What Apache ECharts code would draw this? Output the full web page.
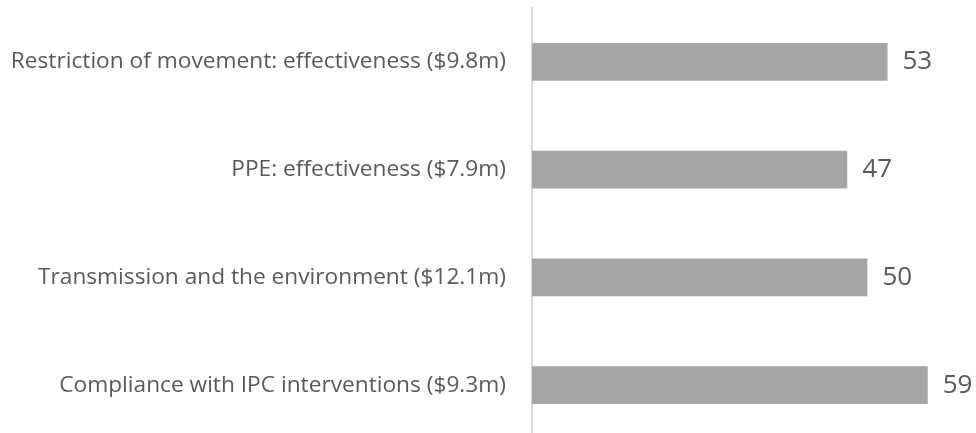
<!DOCTYPE html>
<html>
<head>
<meta charset="utf-8">
<script src="https://cdn.jsdelivr.net/npm/echarts@6/dist/echarts.min.js"></script>
<style>
  html, body { margin: 0; padding: 0; background: #ffffff; }
  #chart { width: 976px; height: 433px; }
</style>
</head>
<body>
<div id="chart"></div>
<script>
// categories, top to bottom as in the picture
const categories = [
  'Restriction of movement: effectiveness ($9.8m)',
  'PPE: effectiveness ($7.9m)',
  'Transmission and the environment ($12.1m)',
  'Compliance with IPC interventions ($9.3m)'
];
const values = [53, 47, 50, 59];

const chart = echarts.init(document.getElementById('chart'));

chart.setOption({
  animation: false,
  grid: {
    left: 532, right: 8, top: 8, height: 431,
    containLabel: false,
    outerBoundsMode: 'none'
  },
  xAxis: {
    type: 'value',
    min: 0,
    max: 65,
    show: false
  },
  yAxis: {
    type: 'category',
    inverse: true,
    data: categories,
    axisLine: { show: true, lineStyle: { color: '#D9D9D9', width: 2 } },
    axisTick: { show: false },
    axisLabel: {
      color: '#595959',
      fontFamily: 'Open Sans',
      fontSize: 22.7,
      margin: 26
    }
  },
  series: [
    {
      type: 'bar',
      data: values,
      barCategoryGap: '65%',
      itemStyle: { color: '#A5A5A5' },
      label: {
        show: true,
        position: 'right',
        distance: 15,
        color: '#595959',
        fontFamily: 'Open Sans',
        fontSize: 26
      }
    }
  ]
});
</script>
</body>
</html>
